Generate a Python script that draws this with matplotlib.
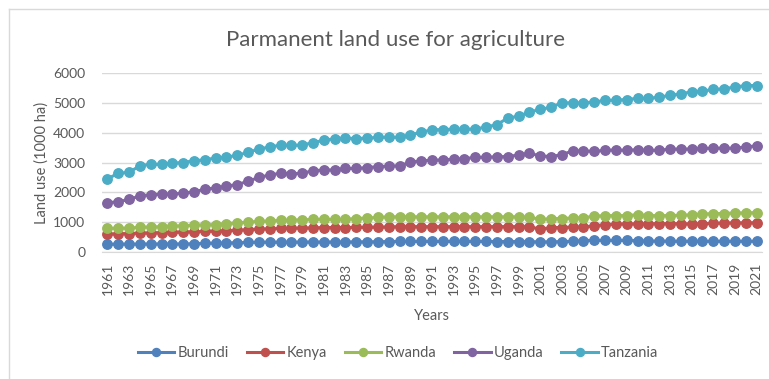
import matplotlib.pyplot as plt
from matplotlib.lines import Line2D
import numpy as np

plt.rcParams["font.family"] = ["Lato", "DejaVu Sans"]

years = np.arange(1961, 2022)

burundi = [260, 265, 265, 265, 270, 270, 270, 270, 275, 290,
           300, 305, 310, 320, 330, 330, 330, 330, 335, 335,
           335, 335, 335, 340, 340, 345, 350, 355, 355, 355,
           355, 355, 355, 355, 355, 355, 350, 350, 350, 345,
           340, 340, 350, 355, 385, 390, 390, 390, 390, 380,
           370, 365, 365, 360, 360, 360, 360, 360, 360, 360, 360]
kenya = [600, 610, 620, 630, 640, 650, 660, 670, 680, 690,
         700, 710, 730, 750, 770, 780, 790, 800, 805, 810,
         820, 820, 820, 825, 830, 835, 840, 850, 850, 850,
         850, 850, 850, 850, 850, 850, 850, 850, 850, 850,
         760, 820, 820, 840, 840, 876, 920, 930, 950, 940,
         950, 950, 950, 950, 940, 950, 960, 975, 975, 980, 980]
rwanda = [790, 800, 800, 830, 840, 850, 870, 880, 900, 910,
          920, 950, 980, 1000, 1030, 1040, 1060, 1070, 1080, 1090,
          1100, 1090, 1100, 1120, 1140, 1160, 1180, 1180, 1180, 1180,
          1180, 1180, 1180, 1180, 1180, 1180, 1180, 1180, 1180, 1170,
          1090, 1120, 1120, 1140, 1150, 1200, 1220, 1220, 1220, 1250,
          1220, 1220, 1220, 1230, 1250, 1270, 1290, 1290, 1310, 1310, 1320]
uganda = [1650, 1685, 1760, 1880, 1920, 1940, 1945, 1970, 2020, 2100,
          2150, 2210, 2260, 2370, 2500, 2580, 2640, 2620, 2640, 2720,
          2750, 2750, 2800, 2800, 2830, 2860, 2880, 2890, 3010, 3060,
          3070, 3090, 3110, 3130, 3170, 3180, 3190, 3200, 3250, 3310,
          3220, 3200, 3260, 3390, 3390, 3370, 3410, 3420, 3410, 3430,
          3410, 3410, 3450, 3450, 3450, 3470, 3480, 3480, 3480, 3520, 3560]
tanzania = [2450, 2640, 2670, 2890, 2940, 2940, 2980, 3000, 3060, 3090,
            3150, 3180, 3240, 3340, 3450, 3520, 3580, 3580, 3580, 3670,
            3740, 3800, 3820, 3800, 3820, 3840, 3850, 3840, 3930, 4010,
            4100, 4100, 4120, 4120, 4120, 4190, 4270, 4490, 4550, 4690,
            4780, 4850, 5000, 5000, 5000, 5030, 5080, 5090, 5110, 5150,
            5150, 5190, 5250, 5300, 5370, 5390, 5450, 5470, 5530, 5580, 5580]

series = {
    "Burundi": (burundi, "#4F81BD"),
    "Kenya": (kenya, "#C0504D"),
    "Rwanda": (rwanda, "#9BBB59"),
    "Uganda": (uganda, "#8064A2"),
    "Tanzania": (tanzania, "#4BACC6"),
}

text_color = "#595959"
grid_color = "#D9D9D9"

fig = plt.figure(figsize=(7.69, 3.79), dpi=100)
ax = fig.add_axes([102 / 769, 127 / 379, 660 / 769, 179 / 379])

for name, (values, color) in series.items():
    ax.plot(years, values, color=color, linewidth=2.2, marker="o",
            markersize=6.8, label=name, zorder=3)

ax.set_xlim(1960.5, 2021.5)
ax.set_ylim(0, 6000)
ax.set_yticks(range(0, 6001, 1000))
ax.set_xticks(years[::2])
ax.set_xticklabels([str(y) for y in years[::2]], rotation=90)
ax.grid(axis="y", color=grid_color, linewidth=1)
ax.set_axisbelow(True)
for side in ["top", "right", "left"]:
    ax.spines[side].set_visible(False)
ax.spines["bottom"].set_color(grid_color)
ax.tick_params(axis="both", length=0, labelsize=10, colors=text_color)
ax.tick_params(axis="y", pad=12)
ax.tick_params(axis="x", pad=8)

ax.set_xlabel("Years", fontsize=10.5, color=text_color, labelpad=10)
ax.set_ylabel("Land use (1000 ha)", fontsize=10.5, color=text_color, labelpad=3)

fig.text(395 / 769, 1 - 40 / 379, "Parmanent land use for agriculture",
         ha="center", va="center", fontsize=16, color=text_color)

fig.legend(loc="center", bbox_to_anchor=(398 / 769, 1 - 353 / 379), ncol=5,
           frameon=False, fontsize=10.5, labelcolor=text_color,
           handlelength=2.5, columnspacing=1.25, handletextpad=0.2,
           markerscale=0.85)

# chart frame edges
fig.add_artist(Line2D([9 / 769, 9 / 769], [0, 1 - 9 / 379],
                      transform=fig.transFigure, color=grid_color, linewidth=1))
fig.add_artist(Line2D([9 / 769, 1], [1 - 9 / 379, 1 - 9 / 379],
                      transform=fig.transFigure, color=grid_color, linewidth=1))

fig.savefig("out.png", dpi=100)
